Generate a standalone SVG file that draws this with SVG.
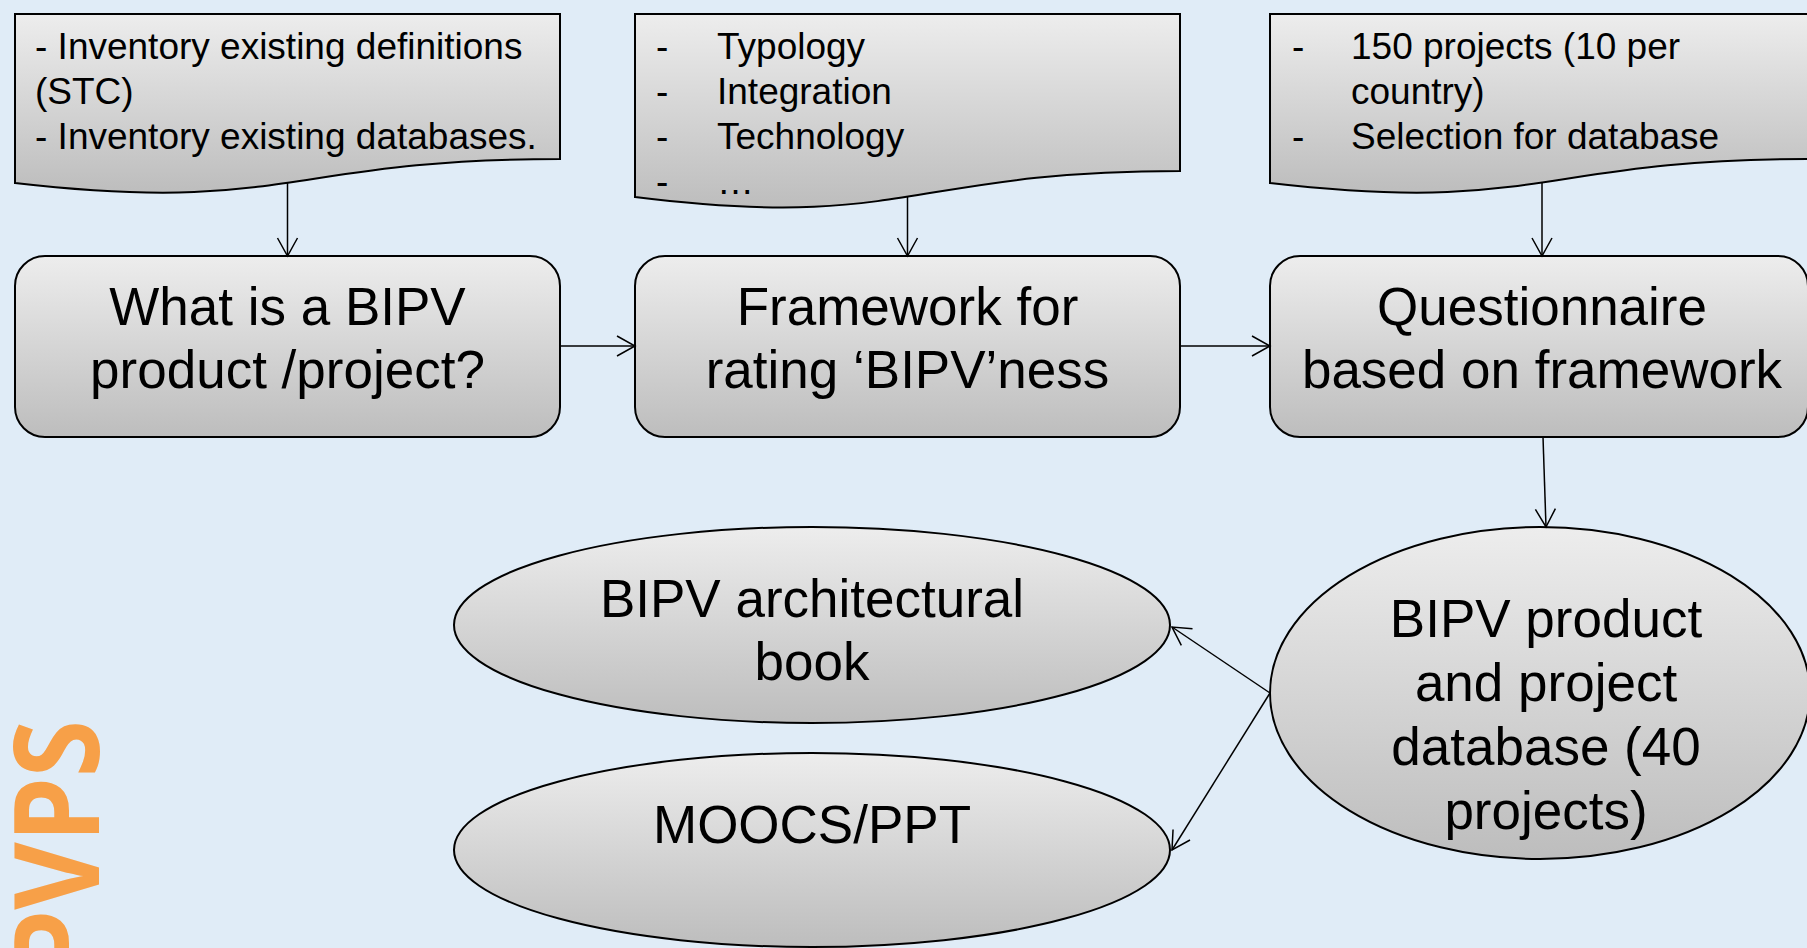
<svg xmlns="http://www.w3.org/2000/svg" width="1807" height="948" viewBox="0 0 1807 948">
<defs>
<linearGradient id="g" x1="0" y1="0" x2="0" y2="1">
<stop offset="0" stop-color="#EDEDED"/>
<stop offset="1" stop-color="#BDBDBD"/>
</linearGradient>
<marker id="ah" markerUnits="userSpaceOnUse" markerWidth="24" markerHeight="24" viewBox="-20 -12 24 24" refX="0" refY="0" orient="auto">
<path d="M-18,-10 L0,0 L-18,10" fill="none" stroke="#000" stroke-width="1.5"/>
</marker>
</defs>
<style>
.shape{fill:url(#g);stroke:#000;stroke-width:2}
.big{font-family:"Liberation Sans",Arial,sans-serif;font-size:53px;fill:#000;text-anchor:middle}
.small{font-family:"Liberation Sans",Arial,sans-serif;font-size:37px;fill:#000}
.conn{stroke:#000;stroke-width:1.5;fill:none;marker-end:url(#ah)}
</style>
<rect width="1807" height="948" fill="#E0ECF7"/>
<text transform="translate(99,720) rotate(-90)" text-anchor="end" font-family="'Open Sans',sans-serif" font-weight="700" font-size="118" fill="#F7A048" textLength="255" lengthAdjust="spacingAndGlyphs">PVPS</text>

<g id="doc1">
<path class="shape" d="M15,14 H560 V159 C287.5,159 287.5,214.5 15,183 Z"/>
<text class="small" x="35" y="59">- Inventory existing definitions</text>
<text class="small" x="35" y="104">(STC)</text>
<text class="small" x="35" y="149">- Inventory existing databases.</text>
</g>
<g id="doc2">
<path class="shape" d="M635,14 H1180 V171 C907.5,171 907.5,231 635,197 Z"/>
<text class="small" x="656" y="59">-</text><text class="small" x="717" y="59">Typology</text>
<text class="small" x="656" y="104">-</text><text class="small" x="717" y="104">Integration</text>
<text class="small" x="656" y="149">-</text><text class="small" x="717" y="149">Technology</text>
<text class="small" x="656" y="194">-</text><text class="small" x="717" y="194">…</text>
</g>
<g id="doc3">
<path class="shape" d="M1270,14 H1810 V159 C1540,159 1540,214.5 1270,183 Z"/>
<text class="small" x="1292" y="59">-</text><text class="small" x="1351" y="59">150 projects (10 per</text>
<text class="small" x="1351" y="104">country)</text>
<text class="small" x="1292" y="149">-</text><text class="small" x="1351" y="149">Selection for database</text>
</g>

<g id="box1">
<rect class="shape" x="15" y="256" width="545" height="181" rx="30"/>
<text class="big" x="287.5" y="325">What is a BIPV</text>
<text class="big" x="287.5" y="388">product /project?</text>
</g>
<g id="box2">
<rect class="shape" x="635" y="256" width="545" height="181" rx="30"/>
<text class="big" x="907.5" y="325">Framework for</text>
<text class="big" x="907.5" y="388">rating ‘BIPV’ness</text>
</g>
<g id="box3">
<rect class="shape" x="1270" y="256" width="538" height="181" rx="30"/>
<text class="big" x="1542" y="325">Questionnaire</text>
<text class="big" x="1542" y="388">based on framework</text>
</g>

<g id="db">
<ellipse class="shape" cx="1540" cy="693" rx="270" ry="166"/>
<text class="big" x="1546" y="637">BIPV product</text>
<text class="big" x="1546" y="701">and project</text>
<text class="big" x="1546" y="765">database (40</text>
<text class="big" x="1546" y="829">projects)</text>
</g>
<g id="book">
<ellipse class="shape" cx="812" cy="625" rx="358" ry="98"/>
<text class="big" x="812" y="617">BIPV architectural</text>
<text class="big" x="812" y="680">book</text>
</g>
<g id="moocs">
<ellipse class="shape" cx="812" cy="850" rx="358" ry="97"/>
<text class="big" x="812" y="843">MOOCS/PPT</text>
</g>

<g id="connectors">
<line class="conn" x1="287.5" y1="183" x2="287.5" y2="256"/>
<line class="conn" x1="907.5" y1="197" x2="907.5" y2="256"/>
<line class="conn" x1="1542" y1="183" x2="1542" y2="256"/>
<line class="conn" x1="560" y1="346" x2="635" y2="346"/>
<line class="conn" x1="1180" y1="346" x2="1270" y2="346"/>
<line class="conn" x1="1543" y1="437" x2="1546" y2="527"/>
<line class="conn" x1="1270" y1="693" x2="1172" y2="627"/>
<line class="conn" x1="1270" y1="693" x2="1172" y2="850"/>
</g>
</svg>
